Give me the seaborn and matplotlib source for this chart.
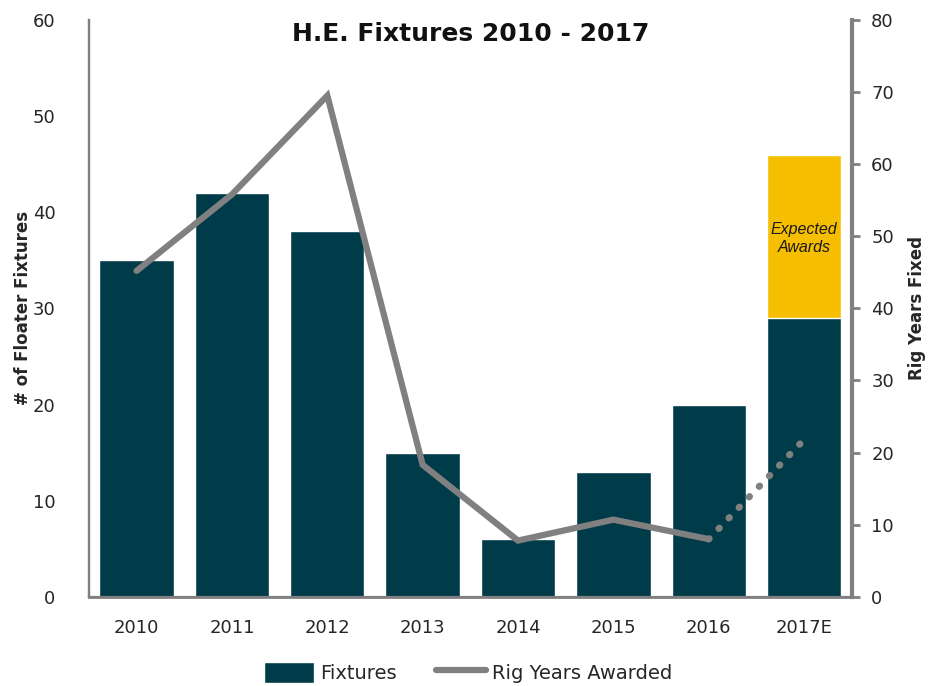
import numpy as np
import pandas as pd
import matplotlib.pyplot as plt
import seaborn as sns
from matplotlib.patches import Patch
from matplotlib.lines import Line2D

years = ['2010', '2011', '2012', '2013', '2014', '2015', '2016', '2017E']
fixtures = [35, 42, 38, 15, 6, 13, 20, 29]
expected = [0, 0, 0, 0, 0, 0, 0, 17]
rig_years = [45.2, 55.8, 69.5, 18.3, 7.8, 10.7, 8.0, 21.8]

teal = '#003B4A'
gold = '#F5BE00'
grey = '#808080'

sns.set_style('white')
plt.rcParams['font.family'] = ['DejaVu Sans']

df = pd.DataFrame({'year': years, 'fixtures': fixtures,
                   'total': np.array(fixtures) + np.array(expected),
                   'rig': rig_years})
df['pos'] = np.arange(len(df))

fig = plt.figure(figsize=(9.36, 6.86), dpi=100)
ax = fig.add_axes([0.095, 0.13, 0.815, 0.841])

sns.barplot(data=df, x='year', y='total', color=gold, width=0.78,
            saturation=1, ax=ax)
sns.barplot(data=df, x='year', y='fixtures', color=teal, width=0.78,
            saturation=1, ax=ax)
ax.set_xlim(-0.5, 7.5)
ax.set_ylim(0, 60)
ax.set_yticks(range(0, 61, 10))
ax.set_xlabel('')
ax.set_ylabel('# of Floater Fixtures', fontsize=12, fontweight='bold')
ax.yaxis.set_label_coords(-0.075, 0.5)
ax.tick_params(axis='y', length=0, labelsize=13, pad=24)
ax.tick_params(axis='x', length=0, labelsize=13, pad=16)

# expected awards label
ax.text(7, 37.3, 'Expected\nAwards', ha='center', va='center',
        fontsize=11.5, style='italic', color='#1a1a1a', linespacing=1.25,
        family='Liberation Sans')

ax2 = ax.twinx()
solid = df.iloc[:7]
dotted = df.iloc[6:]
sns.lineplot(data=solid, x='pos', y='rig', color=grey, linewidth=4.5,
             ax=ax2, solid_capstyle='round', solid_joinstyle='miter')
sns.lineplot(data=dotted, x='pos', y='rig', color=grey, linewidth=5,
             linestyle=(0, (0.1, 2.0)), dash_capstyle='round', ax=ax2)
ax2.set_ylim(0, 80)
ax2.set_yticks(range(0, 81, 10))
ax2.set_xlim(-0.5, 7.5)
ax2.set_xlabel('')
ax2.set_ylabel('Rig Years Fixed', fontsize=12, fontweight='bold', labelpad=10)
ax2.tick_params(axis='y', length=6, width=2, color=grey, labelsize=13, pad=8)

for a in (ax, ax2):
    a.spines['top'].set_visible(False)
    for s in ['left', 'right', 'bottom']:
        a.spines[s].set_color(grey)
        a.spines[s].set_linewidth(1.6)
ax2.spines['right'].set_linewidth(3)
ax2.spines['bottom'].set_linewidth(2)

ax.text(0.5, 0.997, 'H.E. Fixtures 2010 - 2017', transform=ax.transAxes,
        ha='center', va='top', fontsize=18, fontweight='bold', color='#111111')

handles = [Patch(facecolor=teal, label='Fixtures'),
           Line2D([0], [0], color=grey, linewidth=4.5, label='Rig Years Awarded')]
fig.legend(handles=handles, loc='center', bbox_to_anchor=(0.5, 0.02),
           ncol=2, frameon=False, fontsize=14, handlelength=2.6,
           handleheight=1.3, columnspacing=2.0, handletextpad=0.3)

fig.savefig('out.png', dpi=100)
